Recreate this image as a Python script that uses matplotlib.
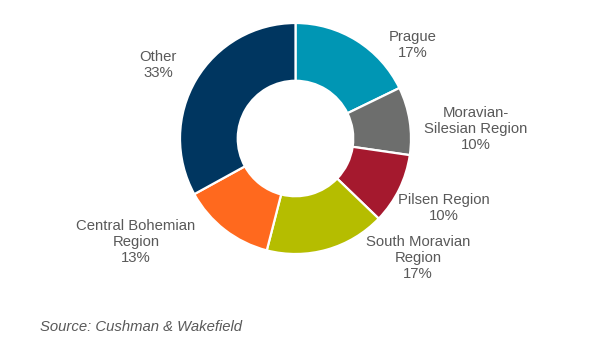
""" Donut chart of regional shares (Cushman & Wakefield).
"""
import matplotlib
matplotlib.use('Agg')
import matplotlib.pyplot as plt

regions = ['Prague', 'Moravian-\nSilesian Region', 'Pilsen Region',
           'South Moravian\nRegion', 'Central Bohemian\nRegion', 'Other']
shares = [17.8, 9.5, 9.9, 16.8, 13.0, 33.0]
share_labels = ['17%', '10%', '10%', '17%', '13%', '33%']
colors = ['#0096B4', '#6D6E6D', '#A5192E', '#B5BD00', '#FF691E', '#003660']

# label anchor points in pixels (x from left, y from top)
label_pos = [(413, 45), (476, 129), (444, 208), (418, 258), (136, 242), (158, 65)]

W, H = 612, 353
fig = plt.figure(figsize=(W / 100, H / 100), dpi=100)
ax = fig.add_axes([0, 0, 1, 1])
ax.set_xlim(0, W)
ax.set_ylim(0, H)
ax.set_aspect('equal')
ax.axis('off')

cx, cy, r = 295.5, H - 138.5, 115.5
ax.pie(shares, colors=colors, startangle=90, counterclock=False,
       center=(cx, cy), radius=r,
       wedgeprops=dict(width=r * 0.5, edgecolor='white', linewidth=1.6))
ax.set_xlim(0, W)
ax.set_ylim(0, H)

for name, pct, (x, y) in zip(regions, share_labels, label_pos):
    ax.text(x, H - y, name + '\n' + pct, ha='center', va='center',
            fontsize=10.7, color='#595959', family='Liberation Sans',
            linespacing=1.14)

ax.text(40, H - 327, 'Source: Cushman & Wakefield', ha='left', va='center',
        fontsize=10.7, color='#595959', family='Liberation Sans', style='italic')

fig.savefig('out.png', dpi=100)
